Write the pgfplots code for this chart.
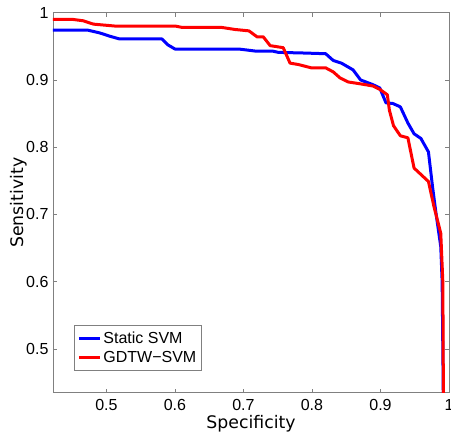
\documentclass[border=0pt]{standalone}
\usepackage{fontspec}
\setmainfont{Liberation Sans}
\newfontfamily\labelfont{DejaVu Sans}
\usepackage{pgfplots}
\pgfplotsset{compat=1.18}

\definecolor{axgray}{RGB}{128,128,128}

\begin{document}
\begin{tikzpicture}
\begin{axis}[
  scale only axis,
  width=396pt, height=380pt,
  xmin=0.422, xmax=1,
  ymin=0.435, ymax=1,
  xtick={0.5,0.6,0.7,0.8,0.9,1},
  ytick={0.5,0.6,0.7,0.8,0.9,1},
  tick align=inside,
  major tick length=4pt,
  axis line style={axgray, line width=0.8pt},
  every tick/.style={axgray, line width=0.8pt},
  /pgf/number format/assume math mode=true,
  tick label style={font=\fontsize{16}{19}\selectfont},
  xticklabel style={yshift=-3pt},
  yticklabel style={xshift=-1pt},
  xlabel={Specificity},
  ylabel={Sensitivity},
  label style={font=\labelfont\fontsize{17.3}{20}\selectfont},
  xlabel style={at={(axis description cs:0.5,0)}, anchor=base, yshift=-36pt},
  ylabel style={at={(axis description cs:0,0.5)}, anchor=base, yshift=29pt},
  legend style={at={(axis description cs:0.053,0.057)}, anchor=south west,
    draw=axgray, line width=0.8pt, font=\fontsize{16}{19}\selectfont,
    inner xsep=3pt, inner ysep=4.5pt, row sep=2pt},
  legend cell align=left,
  legend image code/.code={\draw[#1] (0pt,0pt) -- (21pt,0pt);},
]
\addplot[blue, line width=3pt, line join=round] coordinates {
(0.422,0.974) (0.473,0.974) (0.490,0.970) (0.505,0.965) (0.519,0.961)
(0.581,0.961) (0.590,0.952) (0.600,0.946) (0.693,0.946) (0.717,0.943)
(0.742,0.943) (0.751,0.941) (0.790,0.940) (0.820,0.939) (0.831,0.929)
(0.843,0.925) (0.860,0.915) (0.871,0.900) (0.889,0.893) (0.899,0.888)
(0.908,0.866) (0.918,0.865) (0.929,0.860) (0.940,0.836) (0.949,0.820)
(0.959,0.813) (0.970,0.793) (0.976,0.741) (0.981,0.702) (0.988,0.652)
(0.990,0.600) (0.992,0.400)
};
\addlegendentry{Static SVM}
\addplot[red, line width=3pt, line join=round] coordinates {
(0.422,0.990) (0.451,0.990) (0.466,0.988) (0.481,0.983) (0.514,0.980)
(0.601,0.980) (0.611,0.978) (0.669,0.978) (0.688,0.975) (0.708,0.973)
(0.720,0.964) (0.729,0.964) (0.739,0.951) (0.758,0.948) (0.768,0.925)
(0.780,0.923) (0.799,0.918) (0.820,0.918) (0.831,0.912) (0.841,0.903)
(0.853,0.897) (0.872,0.894) (0.889,0.891) (0.899,0.886) (0.910,0.878)
(0.913,0.855) (0.919,0.832) (0.929,0.817) (0.940,0.814) (0.949,0.769)
(0.970,0.749) (0.978,0.712) (0.988,0.672) (0.991,0.600) (0.992,0.400)
};
\addlegendentry{GDTW−SVM}
\end{axis}
\pgfresetboundingbox
\path[use as bounding box] (-53pt,-43.3pt) rectangle (398pt,392.7pt);
\end{tikzpicture}
\end{document}
